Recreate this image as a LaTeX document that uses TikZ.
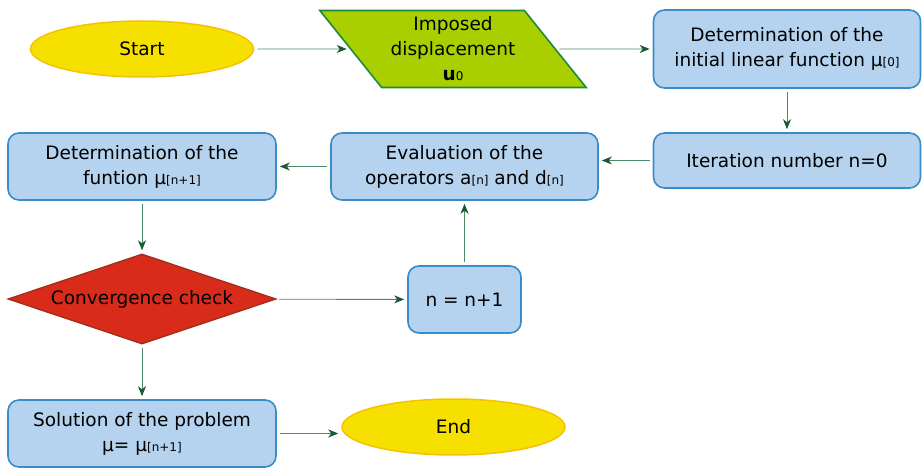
\documentclass[tikz,border=0pt]{standalone}
\usepackage{fontspec}
\setmainfont{DejaVu Sans}
\usetikzlibrary{shapes.geometric,arrows.meta}
\definecolor{termfill}{HTML}{F5E000}
\definecolor{termdraw}{HTML}{F5C200}
\definecolor{iofill}{HTML}{AACF00}
\definecolor{iodraw}{HTML}{1E8A3C}
\definecolor{boxfill}{HTML}{B5D3EE}
\definecolor{boxdraw}{HTML}{3A8CC8}
\definecolor{decfill}{HTML}{D92B1A}
\definecolor{decdraw}{HTML}{A0301C}
\definecolor{lineclr}{HTML}{4A8A66}
\definecolor{tipclr}{HTML}{1A5A34}
\newcommand\lsub[1]{{\fontsize{12}{12}\selectfont #1}}
\begin{document}
\begin{tikzpicture}[x=1pt,y=-1pt,
  every node/.style={font=\fontsize{18.5}{25}\selectfont, align=center, inner sep=0pt},
  term/.style={ellipse, fill=termfill, draw=termdraw, line width=1.5pt, minimum width=223pt, minimum height=56pt},
  iobox/.style={trapezium, trapezium left angle=130, trapezium right angle=50, trapezium stretches=true,
     fill=iofill, draw=iodraw, line width=1.6pt, minimum width=267pt, minimum height=77pt},
  procbox/.style={rectangle, rounded corners=11pt, fill=boxfill, draw=boxdraw, line width=1.6pt},
  decbox/.style={diamond, fill=decfill, draw=decdraw, line width=1.4pt, minimum width=268pt, minimum height=90pt, aspect=2.98},
  flow/.style={draw=lineclr, line width=0.9pt, -{Stealth[length=10pt,width=8pt,inset=3pt,color=tipclr]}, shorten >=3pt, shorten <=3pt}
]
\useasboundingbox (0,0) rectangle (924,470);
\node[term] (start) at (142,49) {Start};
\node[iobox] (imp) at (453,49) {Imposed\\displacement\\\textbf{u}\lsub{0}};
\node[procbox, minimum width=267pt, minimum height=78pt] (init) at (787,49) {Determination of the\\initial linear function μ\lsub{[0]}};
\node[procbox, minimum width=267pt, minimum height=55pt] (iter) at (787,160.5) {Iteration number n=0};
\node[procbox, minimum width=267pt, minimum height=67pt] (eval) at (464.5,166.5) {Evaluation of the\\operators a\lsub{[n]} and d\lsub{[n]}};
\node[procbox, minimum width=268pt, minimum height=67pt] (fun) at (142,166.5) {Determination of the\\funtion μ\lsub{[n+1]}};
\node[decbox] (conv) at (142,299) {\raisebox{-2pt}{Convergence check}};
\node[procbox, minimum width=113pt, minimum height=67pt] (incr) at (464.5,299.5) {n = n+1};
\node[procbox, minimum width=268pt, minimum height=67pt] (sol) at (142,433.5) {Solution of the problem\\μ= μ\lsub{[n+1]}};
\node[term] (end) at (453.5,427) {End};
\draw[flow] (start) -- (imp);
\draw[flow] (imp) -- (init);
\draw[flow] (init) -- (iter);
\draw[flow] (iter.west) -- (eval.east |- iter.west);
\draw[flow] (eval.west |- fun.east) -- (fun.east);
\draw[flow] (fun) -- (conv);
\draw[flow] (conv) -- (incr);
\draw[flow] (incr) -- (eval);
\draw[flow] (conv) -- (sol);
\draw[flow] (sol.east) -- (end.west |- sol.east);
\end{tikzpicture}
\end{document}
